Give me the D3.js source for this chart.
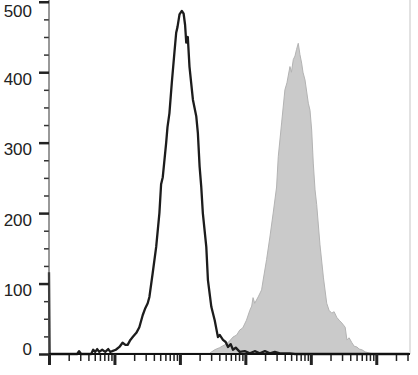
<!DOCTYPE html>
<html>
<head>
<meta charset="utf-8">
<script src="https://cdn.jsdelivr.net/npm/d3@7.9.0/dist/d3.min.js"></script>
<style>
  html, body { margin: 0; padding: 0; background: #fff; }
  svg { display: block; }
  .ylab { font-family: "Liberation Sans", Arial, sans-serif; font-size: 17px; fill: #222; }
</style>
</head>
<body>
<div id="chart"></div>
<script>
// unstained / isotype control (open black histogram)
const ctrlIntensity = [1, 1.02, 2.69, 2.88, 3.10, 4.41, 4.73, 5.08, 5.45, 5.85, 6.50, 7.23, 8.04, 8.63, 9.25,
  10.5, 11.9, 13.3, 14.7, 15.9, 17.5, 19.0, 21.6, 24.0, 27.0, 29.6, 32.2, 34.2, 38.4, 43.4, 48.6,
  51.6, 54.7, 61.7, 64.6, 69.2, 75.2, 82.6, 87.7, 91.8, 98.6, 107, 114, 120, 125, 132, 140,
  158, 178, 188, 200, 212, 224, 253, 268, 302, 340, 381, 405, 455, 500, 543, 597, 647, 713,
  820, 979, 1170, 1390, 1660, 1990, 2370, 2820, 3370, 4800, 5730, 316000];
const ctrlCount = [116, 0, 0, 4, 0, 0, 6, 3, 7, 3, 6, 3, 7, 3, 4,
  6, 10, 16, 13, 13, 20, 24, 30, 38, 55, 65, 72, 81, 115, 152, 200,
  241, 251, 300, 322, 342, 385, 429, 456, 464, 482, 487, 483, 467, 442, 450, 408,
  361, 337, 314, 266, 237, 200, 152, 105, 67, 48, 24, 27, 20, 17, 10, 14, 6, 9,
  3, 4, 1, 4, 1, 4, 1, 3, 1, 1, 0, 0];

// stained sample (filled grey histogram)
const stainIntensity = [1, 8.32, 9.25, 284, 340, 405, 483, 556, 647, 738, 820, 912, 1040, 1170, 1250,
  1310, 1390, 1570, 1770, 1870, 2110, 2370, 2660, 3000, 3180, 3580, 4020, 4320, 4800, 5060,
  5400, 5730, 6040, 6430, 6820, 7240, 7590, 8150, 9160, 9720, 10300, 10900, 11600, 12300,
  13800, 15600, 17500, 19000, 20900, 22700, 24900, 27100, 29800, 33500, 35600, 38500, 42400,
  46000, 50600, 54800, 60400, 67800, 80900, 96600, 316000];
const stainCount = [0, 0, 1, 1, 6, 9, 13, 17, 24, 27, 34, 37, 48, 62, 68,
  80, 72, 81, 91, 105, 134, 166, 200, 237, 280, 328, 375, 385, 408, 400,
  418, 423, 432, 441, 425, 413, 400, 389, 356, 346, 318, 271, 233, 212,
  155, 108, 72, 62, 58, 60, 52, 48, 44, 38, 20, 23, 16, 11, 10,
  7, 6, 3, 1, 0, 0];

const yMajorTicks = [0, 100, 200, 300, 400, 500];
const yMinorTicks = [25, 50, 75, 125, 150, 175, 225, 250, 275, 325, 350, 375, 425, 450, 475];

const width = 418, height = 375;
const plot = { left: 49, right: 409, bottom: 354, top: 0 };

const svg = d3.select('#chart').append('svg')
    .attr('width', width)
    .attr('height', height);

const x = d3.scaleLog()
    .domain([1, Math.pow(10, 5.5)])
    .range([plot.left, plot.right]);

const y = d3.scaleLinear()
    .domain([0, 502.5])
    .range([plot.bottom, plot.top]);

const ctrl = ctrlIntensity.map((v, i) => ({ v, c: ctrlCount[i] }));
const stain = stainIntensity.map((v, i) => ({ v, c: stainCount[i] }));

// right frame edge
svg.append('line')
    .attr('x1', plot.right + 1).attr('x2', plot.right + 1)
    .attr('y1', 0).attr('y2', plot.bottom)
    .attr('stroke', '#d9d9d9')
    .attr('stroke-width', 1.5);

// grey filled histogram
svg.append('path')
    .datum(stain)
    .attr('d', d3.area()
        .x(d => x(d.v))
        .y0(y(0))
        .y1(d => y(d.c)))
    .attr('fill', '#cacaca')
    .attr('stroke', '#b3b3b3')
    .attr('stroke-width', 1);

// black open histogram
svg.append('path')
    .datum(ctrl)
    .attr('d', d3.line()
        .x(d => x(d.v))
        .y(d => y(d.c)))
    .attr('fill', 'none')
    .attr('stroke', '#1c1c1c')
    .attr('stroke-width', 2.3)
    .attr('stroke-linejoin', 'round');

// y axis
const yMinor = svg.append('g')
    .attr('transform', `translate(${plot.left},0)`)
    .call(d3.axisLeft(y).tickValues(yMinorTicks).tickSize(5).tickFormat(''));
yMinor.select('.domain').remove();
yMinor.selectAll('line').attr('stroke', '#333').attr('stroke-width', 1.5);

const yAxis = svg.append('g')
    .attr('transform', `translate(${plot.left},0)`)
    .call(d3.axisLeft(y).tickValues(yMajorTicks).tickSize(10).tickPadding(7));
yAxis.select('.domain')
    .attr('d', `M0,0V${plot.bottom}`)
    .attr('stroke', '#555')
    .attr('stroke-width', 1.2);
yAxis.selectAll('line').attr('stroke', '#222').attr('stroke-width', 2.5);
yAxis.selectAll('text')
    .attr('class', 'ylab')
    .attr('font-family', null)
    .attr('font-size', null)
    .attr('dy', null)
    .attr('y', d => d === 0 ? 0 : Math.max(y(d) + 12, 17) - y(d));

// x axis
const xTicks = x.ticks();
const isMajor = v => Math.abs(Math.log10(v) - Math.round(Math.log10(v))) < 1e-6;

const xMinor = svg.append('g')
    .attr('transform', `translate(0,${plot.bottom})`)
    .call(d3.axisBottom(x).tickValues(xTicks.filter(v => !isMajor(v))).tickSize(7).tickFormat(''));
xMinor.select('.domain').remove();
xMinor.selectAll('line').attr('stroke', '#222').attr('stroke-width', 1.5);

const xAxis = svg.append('g')
    .attr('transform', `translate(0,${plot.bottom})`)
    .call(d3.axisBottom(x).tickValues(xTicks.filter(isMajor)).tickSize(11).tickFormat(''));
xAxis.select('.domain')
    .attr('d', `M${plot.left},0H${plot.right + 1}`)
    .attr('stroke', '#111')
    .attr('stroke-width', 2);
xAxis.selectAll('line').attr('stroke', '#222').attr('stroke-width', 3);
</script>
</body>
</html>
